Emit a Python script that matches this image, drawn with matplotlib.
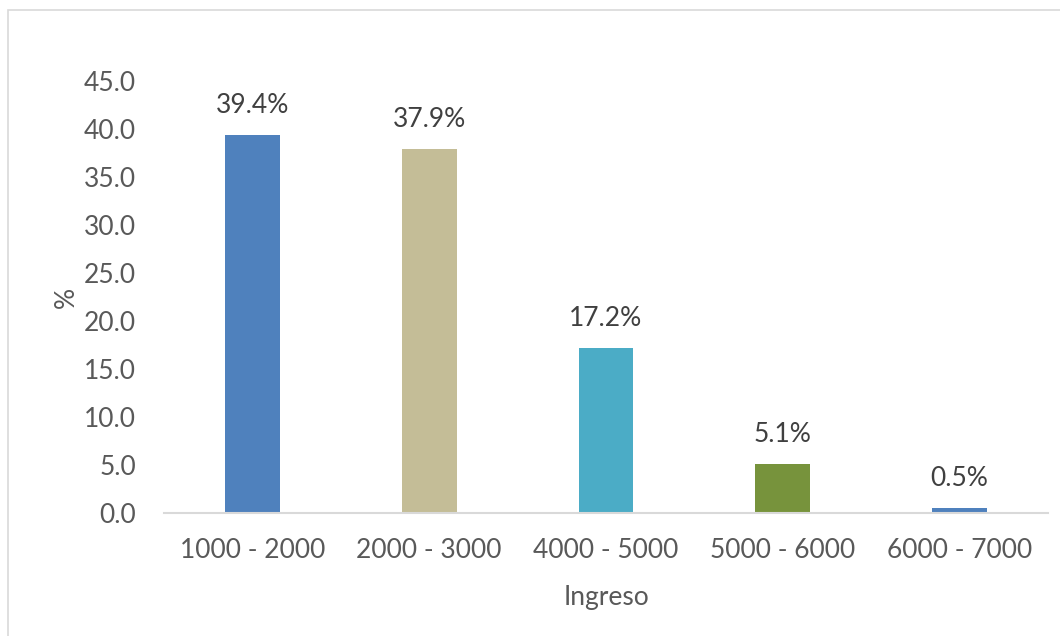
import matplotlib.pyplot as plt
from matplotlib.patches import Rectangle

# ingresos por rango
rangos = ['1000 - 2000', '2000 - 3000', '4000 - 5000', '5000 - 6000', '6000 - 7000']
porcentajes = [39.4, 37.9, 17.2, 5.1, 0.5]
colores = ['#4F81BD', '#C4BD97', '#4BACC6', '#77933C', '#4F81BD']
yticks = [0, 5, 10, 15, 20, 25, 30, 35, 40, 45]

plt.rcParams['font.family'] = ['Lato', 'DejaVu Sans']
gris = '#595959'

fig = plt.figure(figsize=(10.6, 6.36), dpi=100)
ax = fig.add_axes([0.1547, 0.1934, 0.834, 0.6792])

x = range(len(rangos))
ax.bar(x, porcentajes, width=0.31, color=colores)
for i, v in zip(x, porcentajes):
    ax.text(i, v + 1.8, f'{v:.1f}%', ha='center', va='bottom', fontsize=19, color='#404040')

ax.set_xlim(-0.5, len(rangos) - 0.5)
ax.set_ylim(0, 45)
ax.set_yticks(yticks)
ax.set_yticklabels([f'{t:.1f}' for t in yticks])
ax.set_xticks(list(x))
ax.set_xticklabels(rangos)
ax.tick_params(length=0, labelsize=19, colors=gris)
ax.tick_params(axis='y', pad=20)
ax.tick_params(axis='x', pad=18)

for s in ['top', 'right', 'left']:
    ax.spines[s].set_visible(False)
ax.spines['bottom'].set_color('#D9D9D9')
ax.spines['bottom'].set_linewidth(1.5)

ax.set_xlabel('Ingreso', fontsize=19, color=gris, labelpad=16)
ax.set_ylabel('%', fontsize=19, color=gris, labelpad=4)

# borde del grafico
fig.patches.append(Rectangle((8 / 1060, -0.01), 1.5, 1 - 10 / 636 + 0.01, transform=fig.transFigure,
                             fill=False, edgecolor='#D9D9D9', linewidth=1.2))

fig.savefig('out.png', dpi=100)
